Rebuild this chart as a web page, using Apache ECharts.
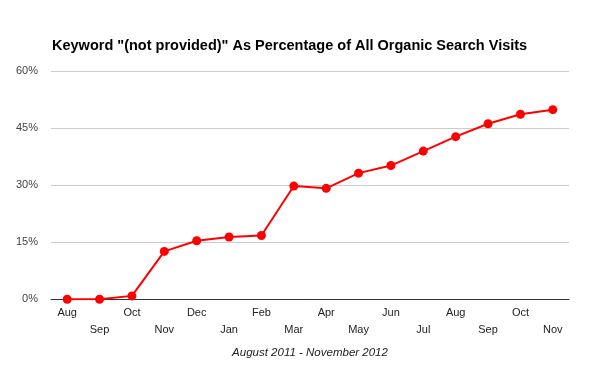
<!DOCTYPE html>
<html><head><meta charset="utf-8">
<script src="https://cdn.jsdelivr.net/npm/echarts@6/dist/echarts.min.js"></script>
<style>html,body{margin:0;padding:0;background:#fff}#c{width:600px;height:371px}</style>
</head><body><div id="c"></div>
<script>
const months = ['Aug','Sep','Oct','Nov','Dec','Jan','Feb','Mar','Apr','May','Jun','Jul','Aug','Sep','Oct','Nov'];
const notProvided = [0, 0, 0.9, 12.6, 15.4, 16.4, 16.8, 29.8, 29.2, 33.2, 35.2, 39.0, 42.8, 46.2, 48.7, 49.9];
const yTicks = [0, 15, 30, 45, 60];
const chart = echarts.init(document.getElementById('c'));
chart.setOption({
  animation: false,
  title: {
    text: 'Keyword "(not provided)" As Percentage of All Organic Search Visits',
    left: 47, top: 33,
    textStyle: {fontFamily: 'Liberation Sans', fontSize: 14.5, fontWeight: 'bold', color: '#000'}
  },
  grid: {left: 51, right: 31, top: 71.3, bottom: 71.7},
  xAxis: {
    type: 'category', data: months, boundaryGap: true,
    axisLine: {lineStyle: {color: '#333', width: 1}},
    axisTick: {show: false},
    axisLabel: {
      interval: 0, color: '#222', fontFamily: 'Liberation Sans', fontSize: 11, margin: 5, lineHeight: 17,
      formatter: (v, i) => (i % 2 ? '\n' + v : v)
    },
    name: 'August 2011 - November 2012', nameLocation: 'middle', nameGap: 47,
    nameTextStyle: {fontFamily: 'Liberation Sans', fontSize: 11.5, fontStyle: 'italic', color: '#222'}
  },
  yAxis: {
    type: 'value', min: yTicks[0], max: yTicks[yTicks.length - 1], interval: 15,
    axisLine: {show: false}, axisTick: {show: false},
    splitLine: {lineStyle: {color: '#ccc', width: 1}},
    axisLabel: {color: '#444', fontFamily: 'Liberation Sans', fontSize: 11, margin: 13, formatter: '{value}%'}
  },
  series: [{
    type: 'line', data: notProvided,
    lineStyle: {color: '#ff0000', width: 2},
    itemStyle: {color: '#ff0000'},
    symbol: 'circle', symbolSize: 9, showSymbol: true
  }]
});
</script></body></html>
